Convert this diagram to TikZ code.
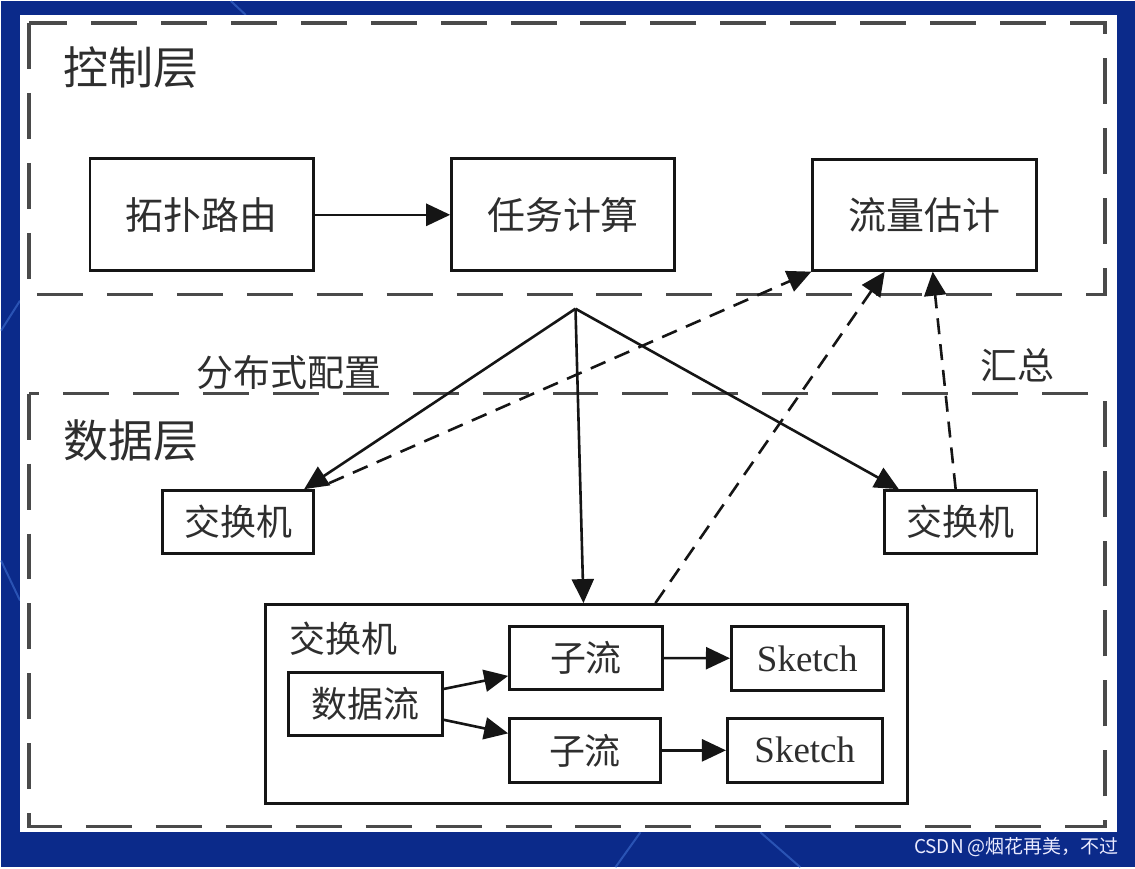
\documentclass[tikz,border=0pt]{standalone}
\usepackage{fontspec}
\setmainfont{Liberation Serif}
\newfontfamily\cjk{Noto Sans CJK SC}
\usetikzlibrary{arrows.meta,calc}
\definecolor{bgblue}{HTML}{0B2A8A}
\definecolor{bgline}{HTML}{3F6FD0}
\definecolor{ink}{HTML}{151515}
\definecolor{txt}{HTML}{2E2E2E}
\definecolor{dashc}{HTML}{4A4A4A}
\begin{document}
\begin{tikzpicture}[x=1pt,y=-1pt,
  box/.style={draw=ink,line width=2.8pt,inner sep=0pt,font=\cjk\fontsize{36}{38}\selectfont,text=txt},
  layer/.style={draw=dashc,line width=3.5pt,dash pattern=on 46pt off 24pt},
  arr/.style={draw=ink,line width=2.6pt,-{Triangle[length=24pt,width=22pt]}},
  darr/.style={arr,dash pattern=on 16pt off 10pt},
  lbl/.style={font=\cjk\fontsize{37}{38}\selectfont,text=txt,inner sep=0pt}]
% background
\fill[bgblue] (0,0) rectangle (1135,867);
\draw[bgline,line width=2pt,opacity=.6] (0,330) -- (19,300);
\draw[bgline,line width=2pt,opacity=.6] (0,560) -- (19,600);
\draw[bgline,line width=2pt,opacity=.6] (615,867) -- (640,832);
\draw[bgline,line width=2pt,opacity=.6] (760,832) -- (800,867);
\draw[bgline,line width=2pt,opacity=.6] (230,0) -- (245,14);
\fill[white] (19,14) rectangle (1117,832);
% layers
\draw[layer] (28,22) rectangle (1105,294);
\draw[layer] (28,393) rectangle (1105,826);
\node[lbl,font=\cjk\fontsize{45}{46}\selectfont] (ctl) at (130,67) {控制层};
\node[lbl,font=\cjk\fontsize{45}{46}\selectfont] (dat) at (130,440) {数据层};
\node[lbl] (cfg) at (288,372) {分布式配置};
\node[lbl] (sum) at (1017,365) {汇总};
% control layer nodes
\node[box,minimum width=224pt,minimum height=112pt,font=\cjk\fontsize{38}{40}\selectfont] (tp) at (201,214) {拓扑路由};
\node[box,minimum width=223pt,minimum height=112pt,font=\cjk\fontsize{38}{40}\selectfont] (rw) at (562.5,214) {任务计算};
\node[box,minimum width=224pt,minimum height=111pt,font=\cjk\fontsize{38}{40}\selectfont] (ll) at (924.5,214) {流量估计};
% data layer nodes
\node[box,minimum width=151pt,minimum height=63pt] (swL) at (237.5,521.5) {交换机};
\node[box,minimum width=153pt,minimum height=63pt] (swR) at (960.5,521.5) {交换机};
\node[box,minimum width=642pt,minimum height=199pt] (big) at (586,703.5) {};
\node[lbl,font=\cjk\fontsize{36}{38}\selectfont] (bigl) at (343,638) {交换机};
\node[box,minimum width=154pt,minimum height=63pt] (sjl) at (365,703.5) {数据流};
\node[box,minimum width=153pt,minimum height=63pt] (zl1) at (585.5,657.5) {子流};
\node[box,minimum width=151pt,minimum height=64pt] (zl2) at (584.5,750) {子流};
\node[box,minimum width=152pt,minimum height=64pt,font=\fontsize{37}{40}\selectfont] (sk1) at (807,658) {Sketch};
\node[box,minimum width=155pt,minimum height=64pt,font=\fontsize{37}{40}\selectfont] (sk2) at (804.5,750) {Sketch};
\coordinate (hub) at (575,308);
% connectors
\draw[arr] (tp) -- (rw);
\draw[arr] (hub) -- ($(swL.north east)+(-11,0)$);
\draw[arr] (hub) -- ($(big.north)+(-3,0)$);
\draw[arr] (hub) -- ($(swR.north west)+(16,0)$);
\draw[darr] ($(swL.north east)+(14,-6)$) -- (ll.south west);
\draw[darr] ($(big.north)+(69,0)$) -- ($(ll.south)+(-40,0)$);
\draw[darr] ($(swR.north)+(-5,0)$) -- ($(ll.south)+(8,0)$);
\draw[arr] ($(sjl.east)+(0,-15)$) -- ($(zl1.west)+(0,18)$);
\draw[arr] ($(sjl.east)+(0,16)$) -- ($(zl2.west)+(0,-17)$);
\draw[arr] (zl1) -- (sk1);
\draw[arr] (zl2) -- (sk2);
% watermark
\node[font=\cjk\fontsize{19}{20}\selectfont,text=white!92!blue,anchor=east,inner sep=0pt] (wm) at (1119,847) {CSDN @烟花再美，不过};
\end{tikzpicture}
\end{document}
